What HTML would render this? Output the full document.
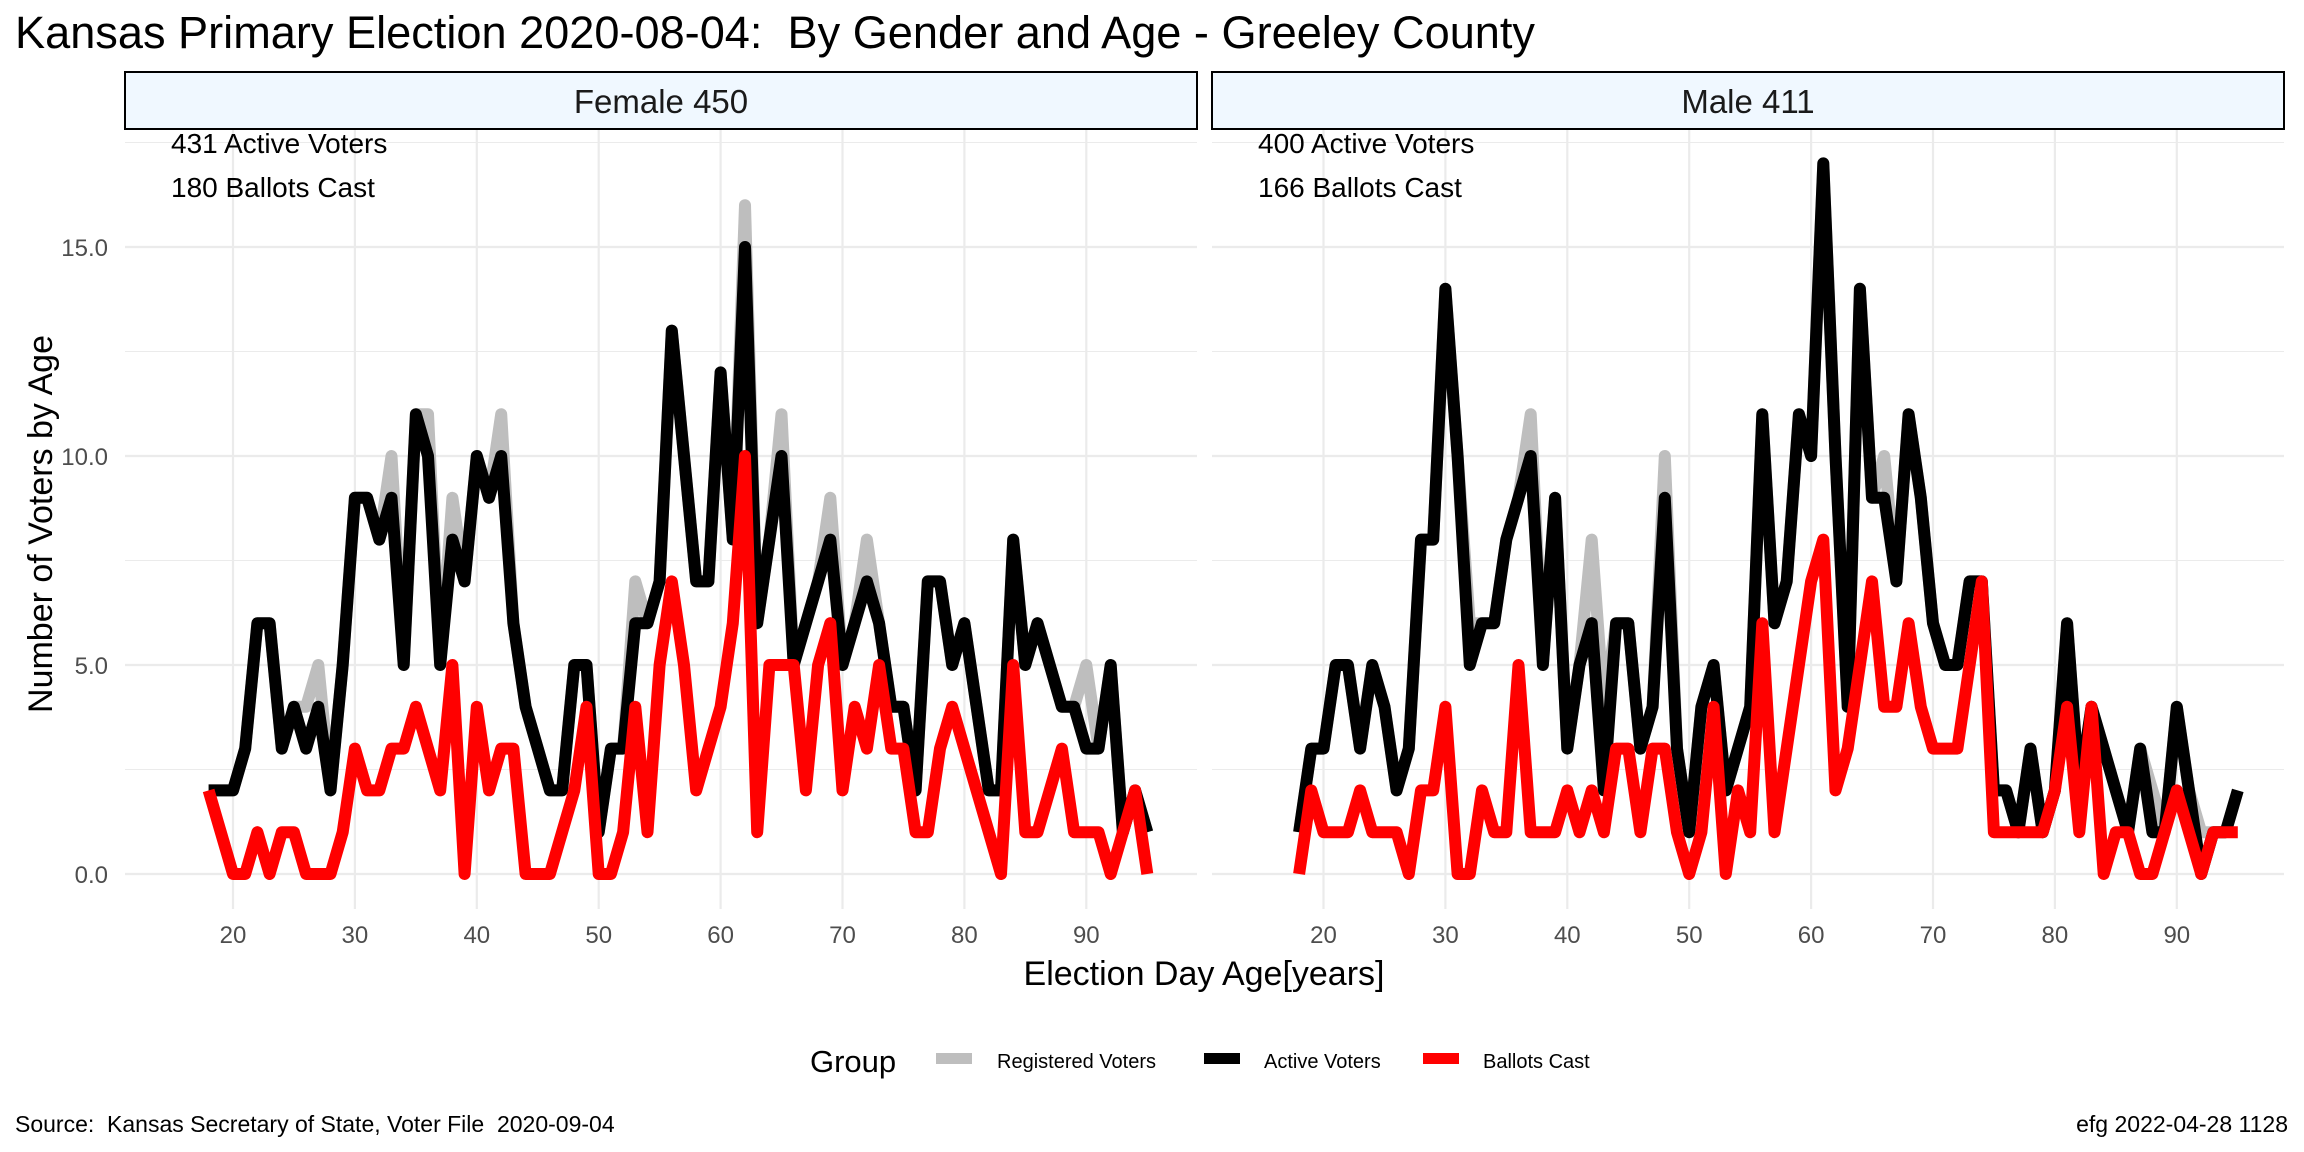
<!DOCTYPE html>
<html><head><meta charset="utf-8"><style>
html,body{margin:0;padding:0;background:#fff;}
svg{display:block;font-family:"Liberation Sans",sans-serif;}
text{white-space:pre;}
</style></head><body>
<svg id="chart" width="2304" height="1152" viewBox="0 0 2304 1152" xmlns="http://www.w3.org/2000/svg" xml:space="preserve">
<rect x="0" y="0" width="2304" height="1152" fill="#fff"/>
<text x="15" y="48" font-size="45" textLength="1520" lengthAdjust="spacingAndGlyphs" fill="#000">Kansas Primary Election 2020-08-04:  By Gender and Age - Greeley County</text>
<g id="panels"></g>
<text x="1204" y="985" font-size="34" text-anchor="middle" fill="#000">Election Day Age[years]</text>
<text transform="translate(52,524) rotate(-90)" font-size="34" text-anchor="middle" fill="#000">Number of Voters by Age</text>
<g>
<text x="810" y="1072" font-size="31">Group</text>
<rect x="936" y="1053" width="36" height="11" fill="#bebebe"/>
<text x="997" y="1068" font-size="20">Registered Voters</text>
<rect x="1204" y="1053" width="36" height="11" fill="#000"/>
<text x="1264" y="1068" font-size="20">Active Voters</text>
<rect x="1423" y="1053" width="36" height="11" fill="#ff0000"/>
<text x="1483" y="1068" font-size="20">Ballots Cast</text>
</g>
<text x="15" y="1132" font-size="23">Source:  Kansas Secretary of State, Voter File  2020-09-04</text>
<text x="2288" y="1132" font-size="23" text-anchor="end">efg 2022-04-28 1128</text>
</svg>
<script>
const ages = [18,19,20,21,22,23,24,25,26,27,28,29,30,31,32,33,34,35,36,37,38,39,40,41,42,43,44,45,46,47,48,49,50,51,52,53,54,55,56,57,58,59,60,61,62,63,64,65,66,67,68,69,70,71,72,73,74,75,76,77,78,79,80,81,82,83,84,85,86,87,88,89,90,91,92,93,94,95];
const femaleRegistered = [2,2,2,3,6,6,3,4,4,5,2,5,9,9,8,10,5,11,11,5,9,7,10,9,11,6,4,3,2,2,5,5,1,3,3,7,6,7,13,10,7,7,12,8,16,6,8,11,5,6,7,9,5,6,8,6,4,4,2,7,7,5,6,4,2,2,8,5,6,5,4,4,5,3,5,1,2,1];
const femaleActive = [2,2,2,3,6,6,3,4,3,4,2,5,9,9,8,9,5,11,10,5,8,7,10,9,10,6,4,3,2,2,5,5,1,3,3,6,6,7,13,10,7,7,12,8,15,6,8,10,5,6,7,8,5,6,7,6,4,4,2,7,7,5,6,4,2,2,8,5,6,5,4,4,3,3,5,1,2,1];
const femaleBallots = [2,1,0,0,1,0,1,1,0,0,0,1,3,2,2,3,3,4,3,2,5,0,4,2,3,3,0,0,0,1,2,4,0,0,1,4,1,5,7,5,2,3,4,6,10,1,5,5,5,2,5,6,2,4,3,5,3,3,1,1,3,4,3,2,1,0,5,1,1,2,3,1,1,1,0,1,2,0];
const maleRegistered = [1,3,3,5,5,3,5,4,2,3,8,8,14,10,6,6,6,8,9,11,5,9,3,5,8,4,6,6,3,4,10,3,1,4,5,2,3,4,11,6,7,11,10,17,10,4,14,9,10,7,11,9,6,5,5,7,7,2,2,1,3,1,2,6,2,4,3,2,1,3,2,1,4,2,1,1,1,2];
const maleActive = [1,3,3,5,5,3,5,4,2,3,8,8,14,10,5,6,6,8,9,10,5,9,3,5,6,2,6,6,3,4,9,3,1,4,5,2,3,4,11,6,7,11,10,17,10,4,14,9,9,7,11,9,6,5,5,7,7,2,2,1,3,1,2,6,2,4,3,2,1,3,1,1,4,2,0,1,1,2];
const maleBallots = [0,2,1,1,1,2,1,1,1,0,2,2,4,0,0,2,1,1,5,1,1,1,2,1,2,1,3,3,1,3,3,1,0,1,4,0,2,1,6,1,3,5,7,8,2,3,5,7,4,4,6,4,3,3,3,5,7,1,1,1,1,1,2,4,1,4,0,1,1,0,0,1,2,1,0,1,1,1];
const yTicks = [0,5,10,15];
const yTickLabels = ["0.0","5.0","10.0","15.0"];
const xTicks = [20,30,40,50,60,70,80,90];
const panelTitles = ["Female 450","Male 411"];
const annoActive = ["431 Active Voters","400 Active Voters"];
const annoBallots = ["180 Ballots Cast","166 Ballots Cast"];

(function(){
const NS = "http://www.w3.org/2000/svg";
const root = document.getElementById('panels');
function mk(tag, attrs, parent){
  const e = document.createElementNS(NS, tag);
  for (const k in attrs) e.setAttribute(k, attrs[k]);
  parent.appendChild(e);
  return e;
}
const panels = [
  {left:125, right:1197, x20:233, key:'female', reg:femaleRegistered, act:femaleActive, bal:femaleBallots},
  {left:1212, right:2284, x20:1323.5, key:'male', reg:maleRegistered, act:maleActive, bal:maleBallots}
];
const pxPerYear = 12.19, y0 = 874, pxPerUnit = 41.8, plotTop = 130, plotBottom = 909;
function yScale(v){ return y0 - v*pxPerUnit; }
panels.forEach((p, i) => {
  const xScale = a => p.x20 + (a-20)*pxPerYear;
  const g = mk('g', {}, root);
  
  
  for (let v = 0; v <= 17.5; v += 2.5) {
    const y = yScale(v);
    if (y < plotTop) continue;
    const l = mk('line', {x1:p.left, x2:p.right, y1:y, y2:y, stroke:'#ebebeb', 'stroke-width': (v%5===0)?2.2:1.1}, g);
    
    
  }
  xTicks.forEach(t => {
    const x = xScale(t);
    const l = mk('line', {x1:x, x2:x, y1:plotTop, y2:plotBottom, stroke:'#ebebeb', 'stroke-width':2.2}, g);
    
    
    const tx = mk('text', {x:x, y:943, 'font-size':24, fill:'#4d4d4d', 'text-anchor':'middle'}, g);
    
    
    tx.textContent = t;
  });
  if (i === 0) {
    yTicks.forEach((t, j) => {
      const tx = mk('text', {x:108, y:yScale(t)+9, 'font-size':24, fill:'#4d4d4d', 'text-anchor':'end'}, g);
      
      
      tx.textContent = yTickLabels[j];
    });
  }
  const s = mk('rect', {x:p.left, y:72, width:p.right-p.left, height:57, fill:'#f0f8ff', stroke:'#000', 'stroke-width':2}, g);
  
  
  const st = mk('text', {x:(p.left+p.right)/2, y:113, 'font-size':33, fill:'#1a1a1a', 'text-anchor':'middle'}, g);
  
  
  st.textContent = panelTitles[i];
  const series = [[p.reg,'#bebebe','registered'],[p.act,'#000000','active'],[p.bal,'#ff0000','ballots']];
  series.forEach(([vals, col, nm]) => {
    const d = vals.map((v, k) => (k ? 'L' : 'M') + xScale(ages[k]).toFixed(1) + ',' + yScale(v).toFixed(1)).join(' ');
    const path = mk('path', {d:d, fill:'none', stroke:col, 'stroke-width':12, 'stroke-linejoin':'round', 'stroke-linecap':'butt'}, g);
    
    
  });
  const a1 = mk('text', {x:p.left+46, y:153, 'font-size':28, fill:'#000'}, g);
  
  
  a1.textContent = annoActive[i];
  const a2 = mk('text', {x:p.left+46, y:197, 'font-size':28, fill:'#000'}, g);
  
  
  a2.textContent = annoBallots[i];
});
})();
</script>
</body></html>
